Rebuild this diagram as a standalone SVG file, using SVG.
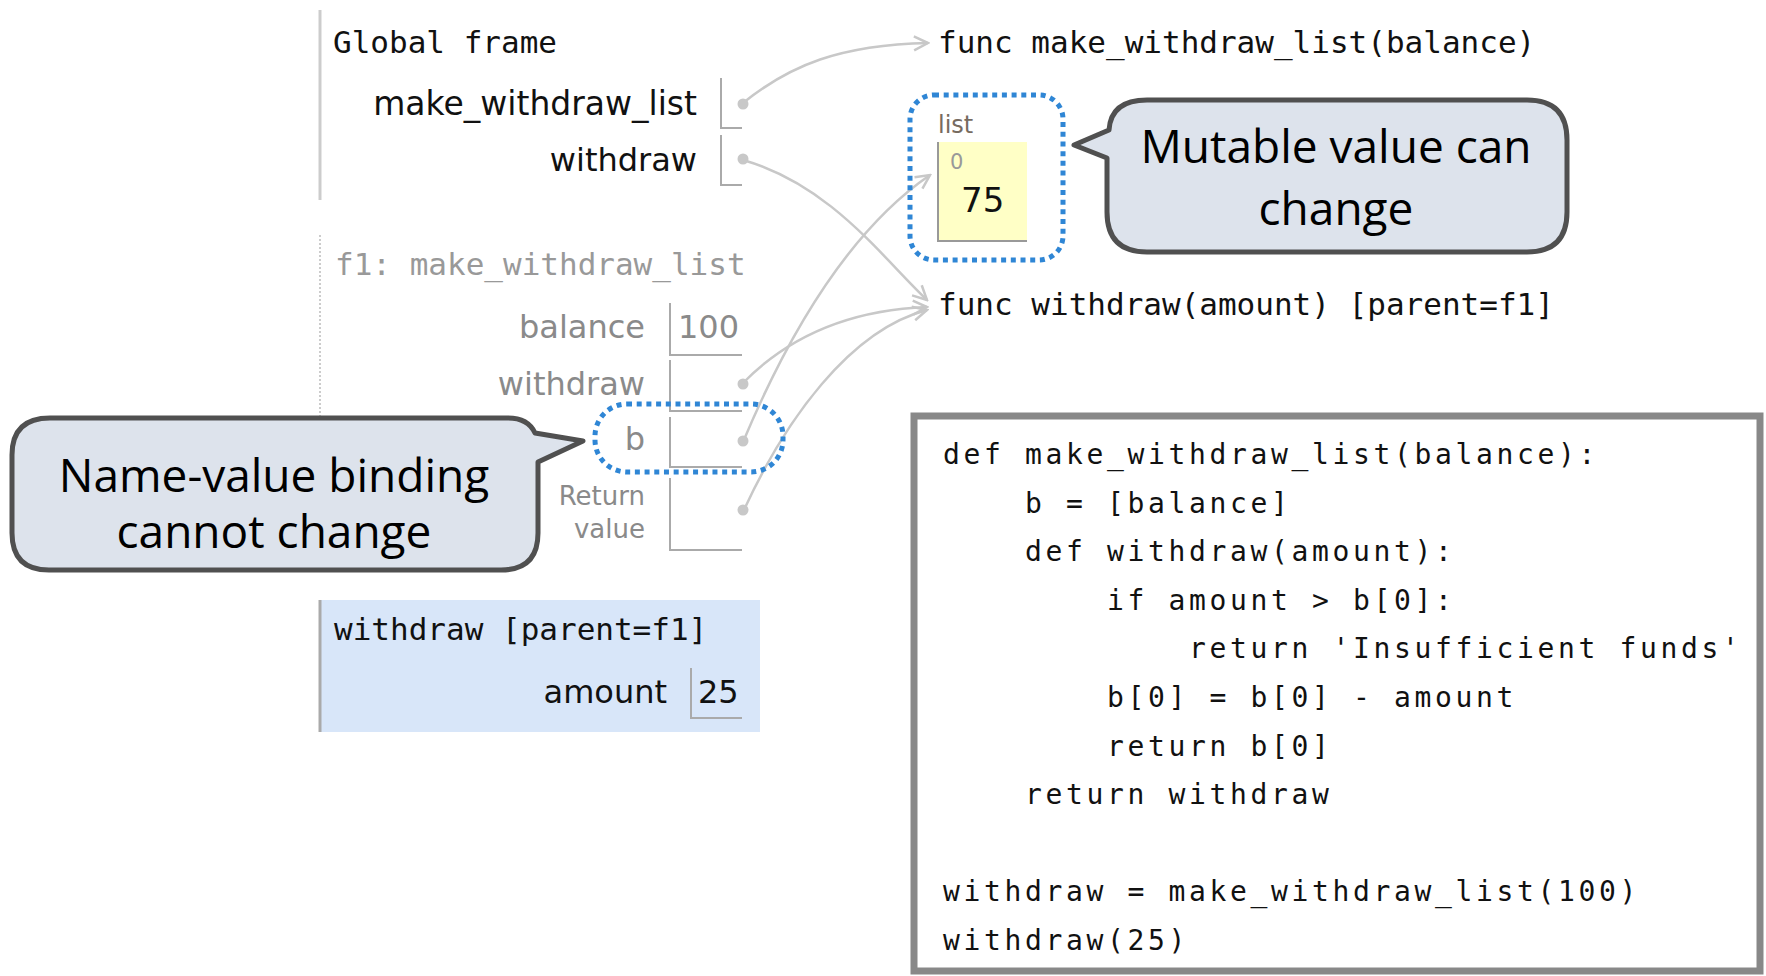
<svg xmlns="http://www.w3.org/2000/svg" width="1766" height="976" viewBox="0 0 1766 976">
<defs>
<style>
.mono{font-family:"DejaVu Sans Mono","Liberation Mono",monospace;}
.sans{font-family:"DejaVu Sans","Liberation Sans",sans-serif;}
.bub{font-family:"Open Sans","Noto Sans",sans-serif;font-size:46px;fill:#000;text-anchor:middle;}
.lbl{font-size:32px;text-anchor:end;}
.gvar{fill:#111;}
.fvar{fill:#8a8a8a;}
.bind{fill:none;stroke:#aaa;stroke-width:2;}
.dot{fill:#c8c8c8;}
.arrow{fill:none;stroke:#c8c8c8;stroke-width:2.5;marker-end:url(#ah);}
.hl{fill:none;stroke:#2f86d5;stroke-width:5;stroke-dasharray:5 4.7;}
.bubble{fill:#dde3ec;stroke:#505050;stroke-width:5;stroke-linejoin:round;}
.code{font-family:"DejaVu Sans Mono","Liberation Mono",monospace;font-size:28px;letter-spacing:3.64px;fill:#111;}
</style>
<marker id="ah" viewBox="0 0 18 18" refX="16" refY="9" markerWidth="18" markerHeight="18" markerUnits="userSpaceOnUse" orient="auto">
<path d="M2,2 L16,9 L2,16" fill="none" stroke="#c8c8c8" stroke-width="2.5"/>
</marker>
</defs>
<rect width="1766" height="976" fill="#fff"/>

<g id="global-frame">
<line x1="320" y1="10" x2="320" y2="200" stroke="#ccc" stroke-width="3"/>
<text class="mono" x="333" y="53" font-size="31" fill="#111">Global frame</text>
<text class="sans lbl gvar" x="697" y="115" style="font-size:33px">make_withdraw_list</text>
<path class="bind" d="M721,78 V128 H742"/>
<circle class="dot" cx="743" cy="104" r="5.5"/>
<text class="sans lbl gvar" x="697" y="171">withdraw</text>
<path class="bind" d="M721,135 V185 H742"/>
<circle class="dot" cx="743" cy="159" r="5.5"/>
</g>

<g id="f1-frame">
<line x1="320" y1="235" x2="320" y2="555" stroke="#ccc" stroke-width="2" stroke-dasharray="2 2"/>
<text class="mono" x="335" y="275" font-size="31" fill="#999">f1: make_withdraw_list</text>
<text class="sans lbl fvar" x="645" y="338">balance</text>
<path class="bind" d="M670,303 V355 H742"/>
<text class="sans fvar" x="678" y="338" font-size="32">100</text>
<text class="sans lbl fvar" x="645" y="395">withdraw</text>
<path class="bind" d="M670,360 V411 H742"/>
<circle class="dot" cx="743" cy="384" r="5.5"/>
<text class="sans lbl fvar" x="645" y="450">b</text>
<path class="bind" d="M670,417 V467 H742"/>
<circle class="dot" cx="743" cy="441" r="5.5"/>
<text class="sans fvar" x="645" y="505" font-size="26" text-anchor="end">Return</text>
<text class="sans fvar" x="645" y="538" font-size="26" text-anchor="end">value</text>
<path class="bind" d="M670,478 V550 H742"/>
<circle class="dot" cx="743" cy="510" r="5.5"/>
</g>

<g id="withdraw-frame">
<rect x="319" y="600" width="441" height="132" fill="#d8e6f9"/>
<line x1="320" y1="600" x2="320" y2="732" stroke="#aaa" stroke-width="3"/>
<text class="mono" x="334" y="640" font-size="31" fill="#111">withdraw [parent=f1]</text>
<text class="sans lbl gvar" x="667" y="703">amount</text>
<path class="bind" d="M691,668 V718 H742"/>
<text class="sans" x="698" y="703" font-size="32" fill="#111">25</text>
</g>

<g id="func-make-withdraw-list">
<text class="mono" x="938" y="53" font-size="31" fill="#111">func make_withdraw_list(balance)</text>
</g>

<g id="func-withdraw">
<text class="mono" x="938" y="315" font-size="31" fill="#111">func withdraw(amount) [parent=f1]</text>
</g>

<g id="list-object">
<text class="sans" x="938" y="133" font-size="24" fill="#776b60">list</text>
<rect x="938" y="142" width="89" height="99" fill="#ffffc6"/>
<path d="M938,142 V241 H1027" fill="none" stroke="#999" stroke-width="2"/>
<text class="sans" x="950" y="169" font-size="21" fill="#999">0</text>
<text class="sans" x="961" y="212" font-size="34" fill="#111">75</text>
</g>

<g id="connectors">
<path class="arrow" d="M743,103 C790,65 840,45 928,43"/>
<path class="arrow" d="M743,160 C830,185 880,255 927,300"/>
<path class="arrow" d="M743,383 C790,335 850,310 927,307"/>
<path class="arrow" d="M743,442 C790,330 850,230 930,175"/>
<path class="arrow" d="M743,512 C785,420 850,330 927,310"/>
</g>

<g id="highlight-b">
<rect class="hl" x="595" y="404" width="188" height="68" rx="32"/>
</g>

<g id="highlight-list">
<rect class="hl" x="910" y="95" width="153" height="165" rx="24"/>
</g>

<g id="callout-binding">
<path class="bubble" d="M50,418 H508 Q528,418 535,433 L583,441 L538,462 V533 Q538,570 501,570 H49 Q12,570 12,533 V455 Q12,418 50,418 Z"/>
<text class="bub" x="274" y="492">Name-value binding</text>
<text class="bub" x="274" y="548">cannot change</text>
</g>

<g id="callout-mutable">
<path class="bubble" d="M1147,100 H1527 Q1567,100 1567,140 V212 Q1567,252 1527,252 H1147 Q1107,252 1107,212 V158 L1074,145 L1109,130 Q1111,100 1147,100 Z"/>
<text class="bub" x="1336" y="163">Mutable value can</text>
<text class="bub" x="1336" y="225">change</text>
</g>

<g id="code-box">
<rect x="914" y="416" width="846" height="555" fill="#fff" stroke="#888" stroke-width="7"/>
<text class="code" x="943" y="464">def make_withdraw_list(balance):</text>
<text class="code" x="1025" y="513">b = [balance]</text>
<text class="code" x="1025" y="561">def withdraw(amount):</text>
<text class="code" x="1107" y="610">if amount &gt; b[0]:</text>
<text class="code" x="1189" y="658">return 'Insufficient funds'</text>
<text class="code" x="1107" y="707">b[0] = b[0] - amount</text>
<text class="code" x="1107" y="756">return b[0]</text>
<text class="code" x="1025" y="804">return withdraw</text>
<text class="code" x="943" y="901">withdraw = make_withdraw_list(100)</text>
<text class="code" x="943" y="950">withdraw(25)</text>
</g>
</svg>
